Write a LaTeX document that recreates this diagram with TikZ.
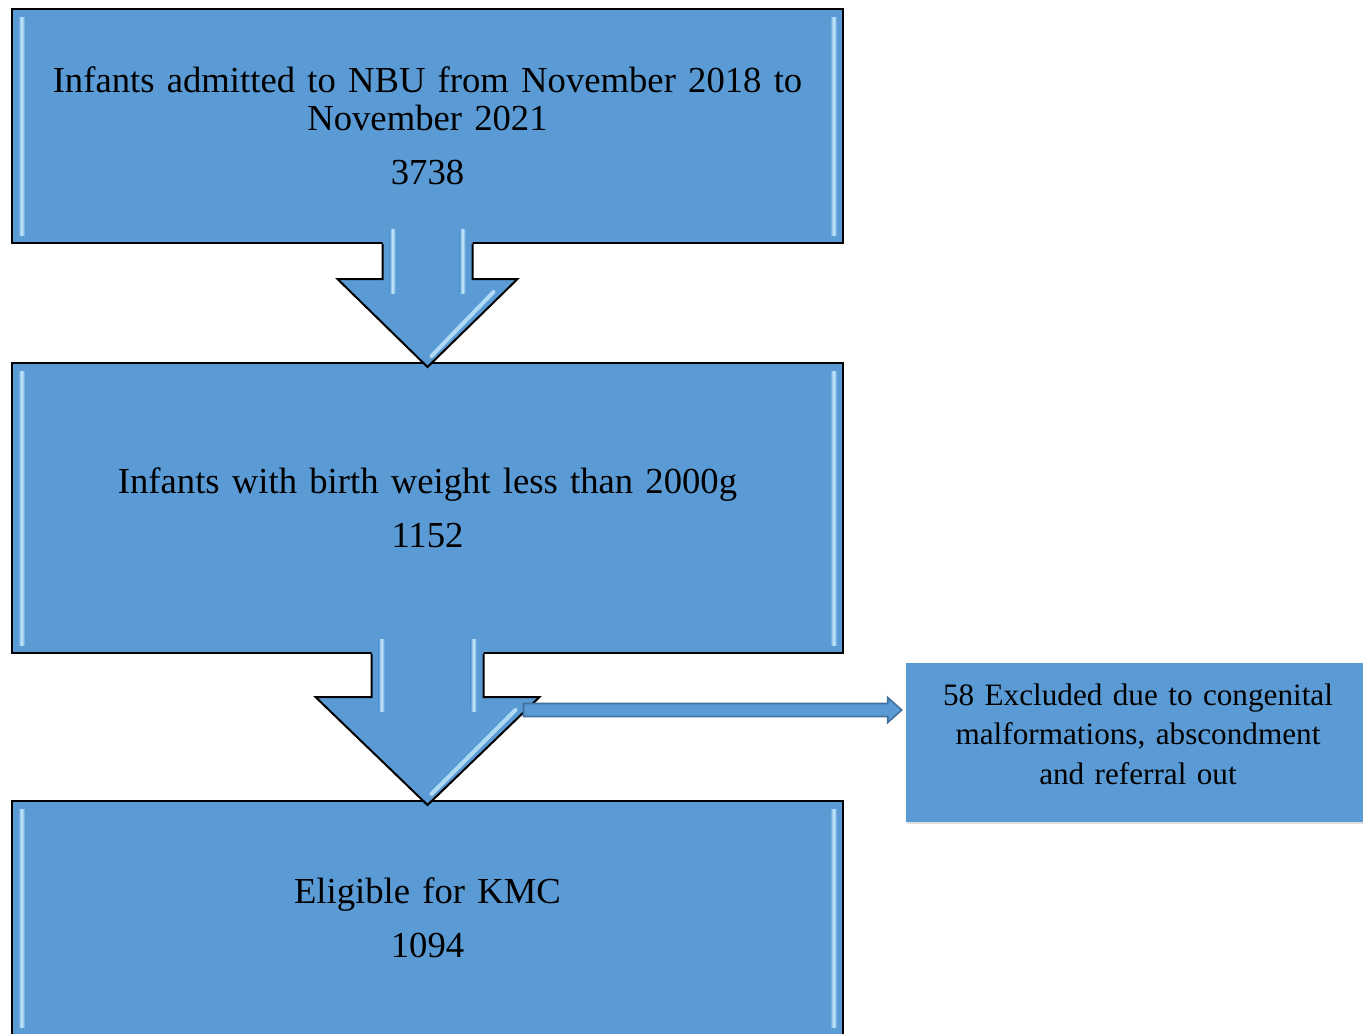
\documentclass[tikz,border=0pt]{standalone}
\usepackage{fontspec}
\setmainfont{Liberation Serif}
\usepackage{tikz}
\usetikzlibrary{calc,shadows,positioning}
\definecolor{boxblue}{HTML}{5B9BD5}
\definecolor{bevellight}{HTML}{CDEEFF}
\definecolor{linkedge}{HTML}{41719C}
\tikzset{stage/.style={draw=black,line width=1.5,fill=boxblue,minimum width=623.25pt,
        text width=600pt,align=center,inner sep=0pt,
        font=\fontsize{27.5}{28.5}\selectfont},
    sidebox/.style={fill=boxblue,minimum width=348pt,minimum height=119.25pt,
        text width=330pt,align=center,inner sep=0pt,text depth=72pt,
        drop shadow={opacity=0.25,shadow xshift=0.8pt,shadow yshift=-1.2pt},
        font=\fontsize{23.4}{29.6}\selectfont},
    bevelband/.style={left color=boxblue,right color=boxblue,middle color=bevellight}}
\newcommand{\stagebevel}[1]{%
    \shade[bevelband] ($(#1.north west)+(7,9)$) rectangle ($(#1.south west)+(14,-9)$);
    \shade[bevelband] ($(#1.north east)+(-14,9)$) rectangle ($(#1.south east)+(-7,-9)$);
}
\newcommand{\stagearrow}[5]{%
    \fill[boxblue] ($(#1.south)+(-#3,-14)$) -- ($(#1.south)+(-#3,#5)$) -- ($(#1.south)+(-#4,#5)$)
        -- ($(#2.north)+(0,5)$) -- ($(#1.south)+(#4,#5)$) -- ($(#1.south)+(#3,#5)$)
        -- ($(#1.south)+(#3,-14)$) -- cycle;
    \draw[line width=1.5,line join=miter] ($(#1.south)+(-#3,0)$) -- ($(#1.south)+(-#3,#5)$)
        -- ($(#1.south)+(-#4,#5)$) -- ($(#2.north)+(0,5)$) -- ($(#1.south)+(#4,#5)$)
        -- ($(#1.south)+(#3,#5)$) -- ($(#1.south)+(#3,0)$);
    \shade[bevelband] ($(#1.south)+(-#3+7,-15)$) rectangle ($(#1.south)+(-#3+13,#5+14)$);
    \shade[bevelband] ($(#1.south)+(#3-13,-15)$) rectangle ($(#1.south)+(#3-7,#5+14)$);
    \draw[bevellight,line width=3,opacity=0.75,line cap=round]
        ($(#1.south)+(#4-24,#5+13)$) -- ($(#2.north)+(4,-6)$);
}

\begin{document}
\begin{tikzpicture}[x=0.75pt,y=-0.75pt]
                \useasboundingbox (0,0) rectangle (1363,1033);
                \clip (0,0) rectangle (1363,1033);
                \node[stage,minimum height=175.5pt] (admitted) at (427.5,126)
                    {Infants admitted to NBU from November 2018 to\\ November 2021\\[12pt] 3738};
                \node[stage,minimum height=217.5pt] (lowweight) at (427.5,508)
                    {Infants with birth weight less than 2000g\\[12pt] 1152};
                \node[stage,minimum height=175.5pt] (eligible) at (427.5,918)
                    {Eligible for KMC\\[12pt] 1094};
                \node[sidebox] (excluded) at (1138,742.5)
                    {58 Excluded due to congenital\\ malformations, abscondment\\ and referral out};
                \stagebevel{admitted}
                \stagebevel{lowweight}
                \stagebevel{eligible}
                \stagearrow{admitted}{lowweight}{45}{90}{35}
                \stagearrow{lowweight}{eligible}{56}{112}{43}
                \coordinate (split) at ($(lowweight.south)+(96,56)$);
                \coordinate (join) at (excluded.west |- split);
                \filldraw[fill=boxblue,draw=linkedge,line width=1.2]
                    ($(split)+(0,-6.5)$) -- ($(join)+(-18,-6.5)$) -- ($(join)+(-18,-12.5)$)
                    -- ($(join)+(-4,0)$) -- ($(join)+(-18,12.5)$) -- ($(join)+(-18,6.5)$)
                    -- ($(split)+(0,6.5)$) -- cycle;
            \end{tikzpicture}
\end{document}
